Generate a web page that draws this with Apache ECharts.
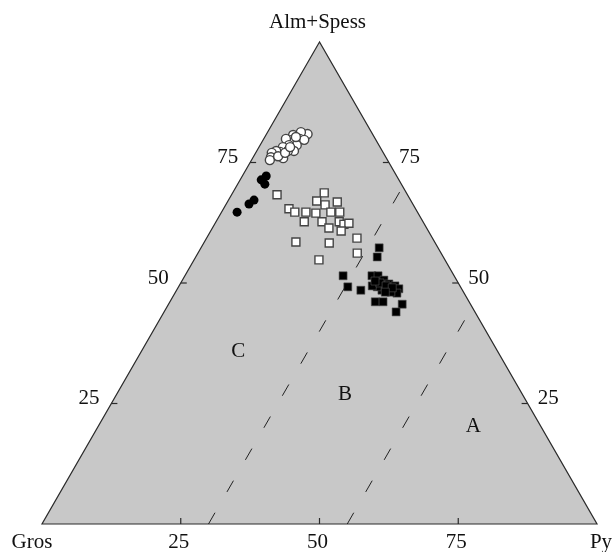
<!DOCTYPE html>
<html>
<head>
<meta charset="utf-8">
<script src="https://cdn.jsdelivr.net/npm/echarts@6/dist/echarts.min.js"></script>
<style>
html, body { margin: 0; padding: 0; background: #fff; }
#main { width: 614px; height: 552px; }
</style>
</head>
<body>
<div id="main"></div>
<script>
// ternary points as [Alm+Spess, Py]; Gros = 100 - Alm - Py
var openCircles = [
  [80.9, 7.4], [81.3, 6.0], [80.7, 4.9], [79.9, 6.5], [79.7, 5.2], [79.9, 4.0],
  [78.6, 6.6], [78.6, 5.2], [78.2, 4.3], [77.4, 6.7], [77.4, 5.6], [77.2, 4.3],
  [77.4, 3.5], [77.0, 2.9], [76.1, 3.2], [75.5, 3.3], [75.9, 5.5], [76.3, 4.4],
  [79.7, 7.4], [77.0, 5.3], [80.3, 5.6], [78.2, 5.6]
];
var filledCircles = [
  [72.2, 4.3], [71.4, 3.8], [70.5, 4.9], [67.2, 4.6], [66.4, 4.1], [64.7, 2.8]
];
var openSquares = [
  [68.3, 8.2], [68.7, 16.5], [67.0, 16.0], [66.2, 17.9], [66.8, 19.8], [65.4, 11.8],
  [64.7, 13.2], [64.7, 15.2], [64.5, 17.1], [64.7, 19.7], [64.7, 21.3], [62.7, 15.9],
  [62.7, 19.1], [61.4, 21.0], [62.7, 22.2], [62.2, 23.3], [62.4, 24.1], [60.8, 23.5],
  [59.3, 27.1], [58.5, 16.5], [58.3, 22.6], [56.2, 28.7], [54.8, 22.5]
];
var filledSquares = [
  [57.3, 32.1], [55.4, 32.7], [51.5, 28.5], [49.2, 30.5], [48.5, 33.2], [46.1, 37.0],
  [46.1, 38.4], [45.6, 42.1], [44.0, 41.8], [51.5, 33.7], [51.5, 34.8], [50.6, 36.3],
  [49.8, 37.6], [49.4, 38.9], [48.8, 39.9], [47.9, 40.0], [48.1, 38.8], [48.5, 37.0],
  [49.2, 35.8], [49.4, 34.8], [50.0, 35.9], [49.4, 37.3], [50.4, 34.8], [49.0, 38.6],
  [48.1, 37.8]
];
var tickValues = [25, 50, 75];
var cornerNames = ['Alm+Spess', 'Gros', 'Py'];
var boundaryPy = [30, 55];
var fieldNames = ['A', 'B', 'C'];
var fieldPos = [[20.2, 67.6], [26.8, 41.2], [35.7, 17.5]];

var H = Math.sqrt(3) / 2;
function toXY(p) {
  return [p[1] + p[0] / 2, p[0] * H];
}

var FONT = '21px "Liberation Serif", "DejaVu Serif", serif';
var INK = '#2a2a2a';

function renderFrame(params, api) {
  var top = api.coord(toXY([100, 0]));
  var left = api.coord(toXY([0, 0]));
  var right = api.coord(toXY([0, 100]));
  var kids = [{
    type: 'polygon',
    shape: { points: [top, left, right] },
    style: { fill: '#c8c8c8', stroke: INK, lineWidth: 1.2 }
  }];
  function txt(s, x, y, align) {
    kids.push({
      type: 'text',
      style: { text: s, x: x, y: y, align: align || 'center', verticalAlign: 'middle', font: FONT, fill: '#111' }
    });
  }
  function seg(x1, y1, x2, y2) {
    kids.push({ type: 'line', shape: { x1: x1, y1: y1, x2: x2, y2: y2 }, style: { stroke: INK, lineWidth: 1.2 } });
  }
  tickValues.forEach(function (v) {
    var l = api.coord(toXY([v, 0]));
    seg(l[0], l[1], l[0] + 6, l[1]);
    txt(String(v), l[0] - 12, l[1] - 5, 'right');
    var r = api.coord(toXY([v, 100 - v]));
    seg(r[0], r[1], r[0] - 6, r[1]);
    txt(String(v), r[0] + 10, r[1] - 5, 'left');
    var b = api.coord(toXY([0, v]));
    seg(b[0], b[1], b[0], b[1] - 6);
    txt(String(v), b[0] - 2, b[1] + 18);
  });
  txt(cornerNames[0], top[0] - 2, top[1] - 20);
  txt(cornerNames[1], left[0] - 10, left[1] + 18);
  txt(cornerNames[2], right[0] + 4, right[1] + 18);
  fieldNames.forEach(function (n, i) {
    var c = api.coord(toXY(fieldPos[i]));
    txt(n, c[0], c[1]);
  });
  return { type: 'group', children: kids };
}

var series = [{
  type: 'custom',
  z: 1,
  silent: true,
  renderItem: renderFrame,
  data: [[0, 0]]
}];

boundaryPy.forEach(function (p) {
  series.push({
    type: 'line',
    z: 2,
    silent: true,
    symbol: 'none',
    lineStyle: { color: '#222', width: 1, type: [13, 24] },
    data: [toXY([0, p]), toXY([100 - p, p])]
  });
});

function pts(arr) { return arr.map(toXY); }

series.push({
  type: 'scatter', z: 3, symbol: 'circle', symbolSize: 9,
  itemStyle: { color: '#fff', borderColor: '#444', borderWidth: 1.4, opacity: 1 },
  data: pts(openCircles)
});
series.push({
  type: 'scatter', z: 3, symbol: 'circle', symbolSize: 9,
  itemStyle: { color: '#000', opacity: 1 },
  data: pts(filledCircles)
});
series.push({
  type: 'scatter', z: 3, symbol: 'rect', symbolSize: 8,
  itemStyle: { color: '#fff', borderColor: '#444', borderWidth: 1.4, opacity: 1 },
  data: pts(openSquares)
});
series.push({
  type: 'scatter', z: 3, symbol: 'rect', symbolSize: 8,
  itemStyle: { color: '#000', borderColor: '#555', borderWidth: 0.6, opacity: 1 },
  data: pts(filledSquares)
});

var myChart = echarts.init(document.getElementById('main'));
var option = {
  animation: false,
  grid: { left: 42, top: 42, width: 555, height: 482 },
  xAxis: { type: 'value', min: 0, max: 100, show: false },
  yAxis: { type: 'value', min: 0, max: 100 * H, show: false },
  series: series
};
myChart.setOption(option);
</script>
</body>
</html>
